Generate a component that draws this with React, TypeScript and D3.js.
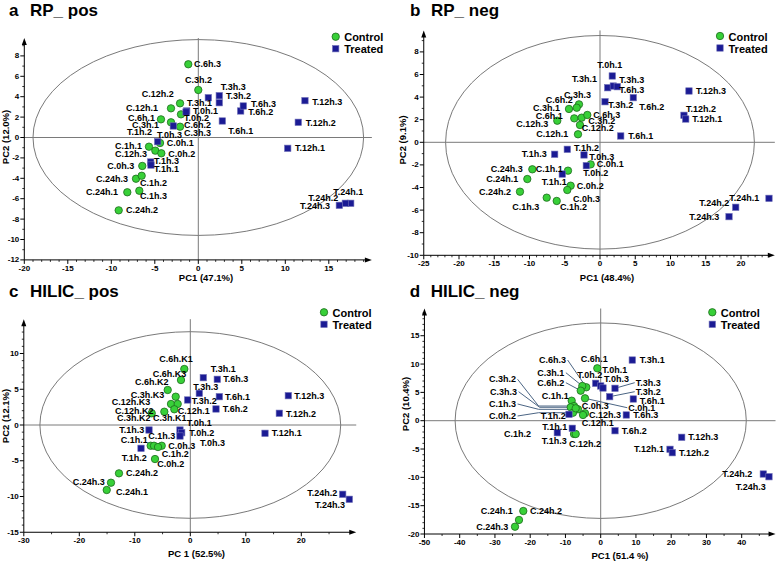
import React from 'react';
import * as d3 from 'd3';

// [name, PC1, PC2, labelX, labelY, leader?]
type Pt = [string, number, number, number, number, string?];

// ---------- Panel a : RP_ pos ----------
const ctrlA: Pt[] = [
  ['C.6h.3', -1.15, 7.18, -0.49, 7.21],
  ['C.3h.2', 0, 4.66, -1.53, 5.64],
  ['C.12h.2', -2.1, 3.35, -6.51, 4.24],
  ['C.12h.1', -3.14, 2.86, -8.31, 2.89],
  ['C.6h.1', -4.29, 1.78, -8.08, 1.91],
  ['C.3h.1', -3.14, 1.49, -7.62, 1.23],
  ['C.3h.3', -1.99, 2.27, -1.64, 0.45],
  ['C.6h.2', -2.1, 1.06, -1.64, 1.2],
  ['C.0h.1', -4.4, -0.54, -3.63, -0.51],
  ['C.1h.1', -5.67, -0.9, -9.57, -0.8],
  ['C.12h.3', -4.94, -1.29, -9.57, -1.65],
  ['C.0h.2', -4.25, -1.55, -3.45, -1.62],
  ['C.0h.3', -6.44, -2.79, -10.46, -2.79],
  ['C.24h.3', -7.16, -4.04, -11.76, -4.07],
  ['C.1h.2', -6.51, -3.75, -6.7, -4.43],
  ['C.24h.1', -8.16, -5.37, -12.91, -5.37],
  ['C.1h.3', -6.78, -5.22, -6.7, -5.71],
  ['C.24h.2', -9.15, -7.14, -8.31, -7.14],
];
const trtA: Pt[] = [
  ['T.0h.1', -1.33, 2.6, -0.61, 2.6],
  ['T.0h.2', -1.41, 2.5, -1.64, 1.92],
  ['T.0h.3', -2.87, 1.13, -4.75, 0.25],
  ['T.1h.2', -4.67, -0.41, -8.2, 0.57],
  ['T.1h.3', -5.47, -2.4, -5.09, -2.33],
  ['T.1h.1', -5.44, -2.7, -5.09, -3.05],
  ['T.3h.1', 2.41, 3.41, -1.3, 3.35],
  ['T.3h.2', 2.41, 4.1, 3.18, 4.07],
  ['T.3h.3', 1.15, 3.9, 2.57, 4.98],
  ['T.6h.1', 2.76, 1.62, 3.45, 0.64],
  ['T.6h.2', 4.87, 2.6, 5.75, 2.5],
  ['T.6h.3', 5.17, 3.09, 6.06, 3.31],
  ['T.12h.1', 10.28, -1.06, 11.11, -1.06],
  ['T.12h.2', 11.49, 1.49, 12.34, 1.45],
  ['T.12h.3', 12.26, 3.61, 13.1, 3.51],
  ['T.24h.1', 17.52, -6.45, 15.52, -5.37],
  ['T.24h.2', 16.9, -6.45, 12.64, -5.96],
  ['T.24h.3', 16.21, -6.65, 11.69, -6.69],
];
const xTicksA = [-20, -15, -10, -5, 0, 5, 10, 15];
const yTicksA = [-12, -10, -8, -6, -4, -2, 0, 2, 4, 6, 8];

// ---------- Panel b : RP_ neg ----------
const ctrlB: Pt[] = [
  ['C.3h.3', -2.98, 3.36, -5.11, 4.19],
  ['C.6h.2', -4.4, 2.95, -7.7, 3.74],
  ['C.3h.1', -3.3, 3.06, -9.5, 3.01],
  ['C.6h.1', -3.65, 2.12, -9.12, 2.35],
  ['C.3h.2', -2.6, 2.18, -1.66, 1.91],
  ['C.6h.3', -1.8, 2.42, -0.95, 2.42],
  ['C.12h.3', -6.06, 1.91, -11.87, 1.59],
  ['C.12h.1', -3.12, 0.71, -9.04, 0.71],
  ['C.12h.2', -2.84, 1.53, -2.6, 1.24],
  ['C.0h.1', -1.32, -1.95, -0.47, -1.95],
  ['C.1h.1', -4.54, -2.51, -9.12, -2.39],
  ['C.24h.3', -9.6, -2.39, -15.5, -2.39],
  ['C.24h.1', -10.31, -3.25, -16.13, -3.25],
  ['C.0h.2', -4.16, -3.84, -3.3, -3.84],
  ['C.24h.2', -11.35, -4.37, -17.16, -4.37],
  ['C.0h.3', -4.64, -4.22, -3.83, -5.04],
  ['C.1h.3', -7.56, -4.9, -12.44, -5.75],
  ['C.1h.2', -6.14, -5.19, -5.67, -5.7],
];
const trtB: Pt[] = [
  ['T.0h.1', 1.74, 5.87, -0.38, 6.84],
  ['T.3h.1', 1.09, 4.83, -3.97, 5.6],
  ['T.3h.3', 1.89, 4.98, 2.74, 5.51],
  ['T.6h.3', 2.45, 4.92, 2.74, 4.63],
  ['T.6h.2', 4.72, 3.95, 5.57, 3.1],
  ['T.3h.2', 0.71, 3.59, 1.18, 3.3],
  ['T.6h.1', 2.94, 0.56, 4.01, 0.56],
  ['T.12h.3', 12.62, 4.54, 13.62, 4.57],
  ['T.12h.2', 11.91, 2.39, 12.2, 2.95],
  ['T.12h.1', 12.16, 2.06, 13.09, 2.06],
  ['T.1h.2', -4.64, -0.62, -3.69, -0.53],
  ['T.1h.3', -6.43, -1.06, -11.11, -1.06],
  ['T.1h.1', -5.35, -2.81, -8.27, -3.49],
  ['T.0h.3', -2.27, -1.12, -1.52, -1.27],
  ['T.0h.2', -1.94, -2.07, -2.37, -2.74],
  ['T.24h.1', 23.97, -4.96, 18.34, -4.96],
  ['T.24h.2', 19.25, -5.75, 14.09, -5.4],
  ['T.24h.3', 18.3, -6.58, 12.67, -6.64],
];
const xTicksB = [-25, -20, -15, -10, -5, 0, 5, 10, 15, 20];
const yTicksB = [-10, -8, -6, -4, -2, 0, 2, 4, 6, 8];

// ---------- Panel c : HILIC_ pos ----------
const ctrlC: Pt[] = [
  ['C.6h.K1', -1.08, 7.83, -5.59, 9.23],
  ['C.6h.K3', -1.68, 6.29, -6.77, 7.13],
  ['C.6h.K2', -4.07, 4.9, -9.96, 5.97],
  ['C.3h.K3', -2.63, 3.96, -10.74, 4.24],
  ['C.12h.K3', -3.48, 2.94, -14.16, 3.17],
  ['C.12h.1', -2.27, 2.94, -2.27, 1.89],
  ['C.3h.K1', -2.88, 2.2, -6.72, 0.98],
  ['C.12h.K2', -4.68, 1.86, -13.57, 1.96],
  ['C.3h.K2', -6.95, 1.64, -13.21, 0.98],
  ['C.1h.1', -7.14, -2.9, -12.54, -2.1],
  ['C.1h.3', -6.54, -2.9, -7.57, -1.5],
  ['C.0h.3', -5.15, -2.9, -3.96, -2.9],
  ['C.1h.2', -5.82, -3.08, -5.15, -4.1],
  ['C.0h.2', -6.36, -4.76, -5.95, -5.5],
  ['C.24h.2', -12.85, -6.76, -11.59, -6.76],
  ['C.24h.3', -14.29, -8.07, -21.19, -7.93],
  ['C.24h.1', -15.06, -9.09, -13.39, -9.33],
];
const trtC: Pt[] = [
  ['T.3h.1', 2.34, 6.62, 3.68, 7.79],
  ['T.6h.3', 4.86, 6.39, 5.95, 6.39],
  ['T.3h.3', 1.62, 4.43, 0.54, 5.27],
  ['T.3h.2', -0.47, 3.5, 0.25, 3.36],
  ['T.6h.1', 5.23, 3.96, 6.25, 3.96],
  ['T.6h.2', 4.63, 2.24, 5.84, 2.24],
  ['T.12h.3', 17.66, 4.1, 18.74, 4.1],
  ['T.12h.2', 16.04, 1.64, 17.24, 1.58],
  ['T.12h.1', 13.46, -1.16, 14.67, -1.16],
  ['T.0h.1', -1.86, -0.7, -0.65, 0.24],
  ['T.0h.2', -1.55, -1.08, -0.18, -1.08],
  ['T.0h.3', -1.86, -1.54, 1.75, -2.56],
  ['T.1h.3', -7.44, -0.7, -12.79, -0.7],
  ['T.1h.2', -8.88, -3.26, -12.36, -4.57],
  ['T.24h.2', 27.46, -9.69, 21.08, -9.47],
  ['T.24h.3', 28.65, -10.39, 22.47, -11.19],
];
const xTicksC = [-30, -20, -10, 0, 10, 20];
const yTicksC = [-15, -10, -5, 0, 5, 10];

// ---------- Panel d : HILIC_ neg ----------
const ctrlD: Pt[] = [
  ['C.6h.1', -0.96, 9.25, -5.67, 10.89],
  ['C.6h.3', -4.09, 5.9, -17.5, 10.71, 'd'],
  ['C.3h.1', -5.22, 6.13, -17.99, 8.47, 'd'],
  ['C.6h.2', -5.67, 5.3, -17.99, 6.71, 'd'],
  ['C.0h.1', -4.45, 3.95, 7.83, 2.29, 'd'],
  ['C.1h.1', -8.23, 3.53, -16.74, 4.36],
  ['C.3h.2', -7.57, 2.59, -31.69, 7.31, 'e'],
  ['C.3h.3', -8.51, 2.37, -31.4, 5.12, 'e'],
  ['C.1h.3', -6.44, 2.01, -31.69, 2.95, 'e'],
  ['C.0h.2', -7.86, 1.41, -31.69, 0.83, 'e'],
  ['C.0h.3', -7.09, 2.19, -5.39, 2.59],
  ['C.12h.3', -4.45, 1.31, -3.32, 1.01],
  ['C.12h.1', -5.02, 1.01, -5.39, -0.35],
  ['C.12h.2', -7.57, -2.35, -8.99, -4.17],
  ['C.1h.2', -7.09, -2.35, -27.43, -2.35],
  ['C.24h.2', -21.96, -15.94, -20.06, -15.94],
  ['C.24h.1', -23.18, -17.52, -34.04, -15.94],
  ['C.24h.3', -24.31, -18.71, -35.29, -18.71],
];
const trtD: Pt[] = [
  ['T.3h.1', 8.96, 10.71, 11.06, 10.71],
  ['T.0h.2', -1.42, 6.6, -6.64, 8.07],
  ['T.0h.1', 0, 6.13, 0.45, 8.95],
  ['T.0h.3', 0.65, 5.77, 0.94, 7.31],
  ['T.3h.3', 4.06, 5.72, 9.93, 6.71, 'd'],
  ['T.3h.2', 2.55, 4.24, 9.93, 5.12, 'd'],
  ['T.6h.1', 9.25, 3.83, 11.06, 3.53],
  ['T.6h.3', 7.26, 1.01, 9.25, 1.01],
  ['T.6h.2', 4.06, -1.77, 5.96, -1.77],
  ['T.12h.3', 22.98, -2.93, 24.85, -2.93],
  ['T.12h.1', 19.66, -5.05, 9.45, -5.05],
  ['T.12h.2', 20.31, -5.65, 22.21, -5.65],
  ['T.24h.2', 46.13, -9.41, 34.5, -9.41],
  ['T.24h.3', 47.74, -9.89, 38.3, -11.65],
  ['T.1h.2', -8.99, 1.13, -17.02, 0.83],
  ['T.1h.1', -8.06, -1.34, -16.57, -1.06],
  ['T.1h.3', -12.31, -2.12, -16.74, -3.53],
];
const xTicksD = [-50, -40, -30, -20, -10, 0, 10, 20, 30, 40];
const yTicksD = [-20, -15, -10, -5, 0, 5, 10, 15];

const legendNames = ['Control', 'Treated'];

const FONT = '"Liberation Sans", Arial, Helvetica, sans-serif';
const GREEN = '#38d038';
const GREEN_STROKE = '#1d6b1d';
const BLUE = '#1b1b94';
const BLUE_STROKE = '#7070b8';

interface Cfg {
  letter: string;
  title: string;
  ctrl: Pt[];
  trt: Pt[];
  xTicks: number[];
  yTicks: number[];
  xMinor: number;
  yMinor: number;
  xDom: [number, number];
  xRange: [number, number];
  yDom: [number, number];
  yRange: [number, number];
  xEnd: number;
  yEnd: number;
  ell: [number, number];
  xLabel: string;
  yLabel: string;
  xLabelPos: [number, number];
  yLabelPos: [number, number];
  titlePos: [number, number];
  legendPos: [number, number];
}

const panels: Cfg[] = [
  {
    letter: 'a', title: 'RP_ pos', ctrl: ctrlA, trt: trtA, xTicks: xTicksA, yTicks: yTicksA,
    xMinor: 1, yMinor: 1, xDom: [-20, 20], xRange: [24.3, 372.3], yDom: [-12, 10], yRange: [259.9, 35.5],
    xEnd: 19.95, yEnd: 9.75, ell: [19, 9.6], xLabel: 'PC1 (47.1%)', yLabel: 'PC2 (12.0%)',
    xLabelPos: [206, 277], yLabelPos: [5.5, 137], titlePos: [9, 16], legendPos: [335.7, 36.7],
  },
  {
    letter: 'b', title: 'RP_ neg', ctrl: ctrlB, trt: trtB, xTicks: xTicksB, yTicks: yTicksB,
    xMinor: 1, yMinor: 1, xDom: [-25, 25], xRange: [423.75, 776.25], yDom: [-10, 10], yRange: [255.3, 29.3],
    xEnd: 24.8, yEnd: 9.9, ell: [21.9, 9.45], xLabel: 'PC1 (48.4%)', yLabel: 'PC2 (9.1%)',
    xLabelPos: [607, 277], yLabelPos: [402, 140], titlePos: [410, 16], legendPos: [720, 36],
  },
  {
    letter: 'c', title: 'HILIC_ pos', ctrl: ctrlC, trt: trtC, xTicks: xTicksC, yTicks: yTicksC,
    xMinor: 5, yMinor: 1, xDom: [-30, 30], xRange: [23.8, 356.8], yDom: [-15, 15], yRange: [532.25, 317.75],
    xEnd: 29.9, yEnd: 14.8, ell: [27.1, 13.05], xLabel: 'PC 1 (52.5%)', yLabel: 'PC2 (12.1%)',
    xLabelPos: [196.5, 553], yLabelPos: [5.5, 416], titlePos: [9, 297], legendPos: [324, 312.3],
  },
  {
    letter: 'd', title: 'HILIC_ neg', ctrl: ctrlD, trt: trtD, xTicks: xTicksD, yTicks: yTicksD,
    xMinor: 5, yMinor: 1, xDom: [-50, 50], xRange: [424.45, 776.95], yDom: [-20, 20], yRange: [534, 307.4],
    xEnd: 49.6, yEnd: 19.8, ell: [41.3, 17.25], xLabel: 'PC1 (51.4 %)', yLabel: 'PC2 (10.4%)',
    xLabelPos: [620, 555], yLabelPos: [405.7, 404], titlePos: [409.7, 297], legendPos: [712.3, 312.3],
  },
];

const labelWidth = (s: string) => s.length * 4.6;

function Panel({ cfg }: { cfg: Cfg }) {
  const x = d3.scaleLinear().domain(cfg.xDom).range(cfg.xRange);
  const y = d3.scaleLinear().domain(cfg.yDom).range(cfg.yRange);
  const x0 = x(cfg.xDom[0]);
  const y0 = y(cfg.yDom[0]);
  const xe = x(cfg.xEnd);
  const ye = y(cfg.yEnd);
  const zx = x(0);
  const zy = y(0);

  const minorX = d3.range(cfg.xDom[0], cfg.xEnd, cfg.xMinor).filter((v) => !cfg.xTicks.includes(v));
  const minorY = d3.range(cfg.yDom[0], cfg.yEnd, cfg.yMinor).filter((v) => !cfg.yTicks.includes(v));

  const all = [...cfg.ctrl, ...cfg.trt];
  const leaders = all.filter((p) => p[5]).map((p) => {
    const px = x(p[1]);
    const py = y(p[2]);
    const lx = x(p[3]);
    const ly = y(p[4]);
    const w = labelWidth(p[0]);
    if (p[5] === 'e') {
      const ex = lx + w + 1;
      return `M${ex},${ly}L${ex + 21},${py}L${px},${py}`;
    }
    if (lx > px) return `M${lx - 1},${ly}L${px},${py}`;
    return `M${lx + w + 1},${ly}L${px},${py}`;
  });

  const [lgx, lgy] = cfg.legendPos;
  const R = 3.7;
  const S = 6.4;

  return (
    <g>
      <text x={cfg.titlePos[0]} y={cfg.titlePos[1]} fontSize={17} fontWeight="bold" fontFamily={FONT}>{cfg.letter}</text>
      <text x={cfg.titlePos[0] + 21} y={cfg.titlePos[1]} fontSize={17} fontWeight="bold" fontFamily={FONT}>{cfg.title}</text>

      <ellipse cx={zx} cy={zy} rx={x(cfg.ell[0]) - zx} ry={zy - y(cfg.ell[1])} fill="none" stroke="#6a6a6a" strokeWidth={0.9} />
      <line x1={x0} x2={xe} y1={zy} y2={zy} stroke="#7a7a7a" strokeWidth={1} />
      <line x1={zx} x2={zx} y1={y0} y2={ye} stroke="#7a7a7a" strokeWidth={1} />

      {/* axes */}
      <line x1={x0} x2={xe - 4} y1={y0} y2={y0} stroke="#000" strokeWidth={1} />
      <polygon points={`${xe},${y0} ${xe - 7},${y0 - 2.5} ${xe - 7},${y0 + 2.5}`} fill="#000" />
      <line x1={x0} x2={x0} y1={y0} y2={ye + 4} stroke="#000" strokeWidth={1} />
      <polygon points={`${x0},${ye} ${x0 - 2.5},${ye + 7} ${x0 + 2.5},${ye + 7}`} fill="#000" />

      {cfg.xTicks.map((v) => (
        <g key={'xt' + v}>
          <line x1={x(v)} x2={x(v)} y1={y0} y2={y0 + 4} stroke="#000" strokeWidth={1} />
          <text x={x(v)} y={y0 + 8.5} fontSize={8} fontWeight="bold" fontFamily={FONT} textAnchor="middle" dominantBaseline="central">{v}</text>
        </g>
      ))}
      {minorX.map((v) => (
        <line key={'xm' + v} x1={x(v)} x2={x(v)} y1={y0} y2={y0 + 2} stroke="#000" strokeWidth={0.8} />
      ))}
      {cfg.yTicks.map((v) => (
        <g key={'yt' + v}>
          <line x1={x0 - 4} x2={x0} y1={y(v)} y2={y(v)} stroke="#000" strokeWidth={1} />
          <text x={x0 - 5} y={y(v)} fontSize={8} fontWeight="bold" fontFamily={FONT} textAnchor="end" dominantBaseline="central">{v}</text>
        </g>
      ))}
      {minorY.map((v) => (
        <line key={'ym' + v} x1={x0 - 2} x2={x0} y1={y(v)} y2={y(v)} stroke="#000" strokeWidth={0.8} />
      ))}

      <text x={cfg.xLabelPos[0]} y={cfg.xLabelPos[1]} fontSize={9.5} fontWeight="bold" fontFamily={FONT} textAnchor="middle" dominantBaseline="central">{cfg.xLabel}</text>
      <text transform={`translate(${cfg.yLabelPos[0]},${cfg.yLabelPos[1]}) rotate(-90)`} fontSize={9.5} fontWeight="bold" fontFamily={FONT} textAnchor="middle" dominantBaseline="central">{cfg.yLabel}</text>

      {leaders.map((d, i) => (
        <path key={'ld' + i} d={d} fill="none" stroke="#4b6584" strokeWidth={1} />
      ))}

      {cfg.ctrl.map((p) => (
        <circle key={'c' + p[0]} cx={x(p[1])} cy={y(p[2])} r={R} fill={GREEN} stroke={GREEN_STROKE} strokeWidth={0.8} />
      ))}
      {cfg.trt.map((p) => (
        <rect key={'t' + p[0]} x={x(p[1]) - S / 2} y={y(p[2]) - S / 2} width={S} height={S} fill={BLUE} stroke={BLUE_STROKE} strokeWidth={0.6} />
      ))}
      {all.map((p, i) => (
        <text key={'l' + i} x={x(p[3])} y={y(p[4])} fontSize={9} fontWeight="bold" fontFamily={FONT} dominantBaseline="central">{p[0]}</text>
      ))}

      <circle cx={lgx} cy={lgy} r={R} fill={GREEN} stroke={GREEN_STROKE} strokeWidth={0.8} />
      <text x={lgx + 8.5} y={lgy + 0.5} fontSize={11} fontWeight="bold" fontFamily={FONT} dominantBaseline="central">{legendNames[0]}</text>
      <rect x={lgx - S / 2} y={lgy + 12 - S / 2} width={S} height={S} fill={BLUE} stroke={BLUE_STROKE} strokeWidth={0.6} />
      <text x={lgx + 8.5} y={lgy + 12.5} fontSize={11} fontWeight="bold" fontFamily={FONT} dominantBaseline="central">{legendNames[1]}</text>
    </g>
  );
}

export default function App() {
  return (
    <svg width={778} height={561} viewBox="0 0 778 561" style={{ position: 'absolute', left: 0, top: 0, background: '#fff' }}>
      <rect x={0} y={0} width={778} height={561} fill="#fff" />
      {panels.map((c) => (
        <Panel key={c.letter} cfg={c} />
      ))}
    </svg>
  );
}
